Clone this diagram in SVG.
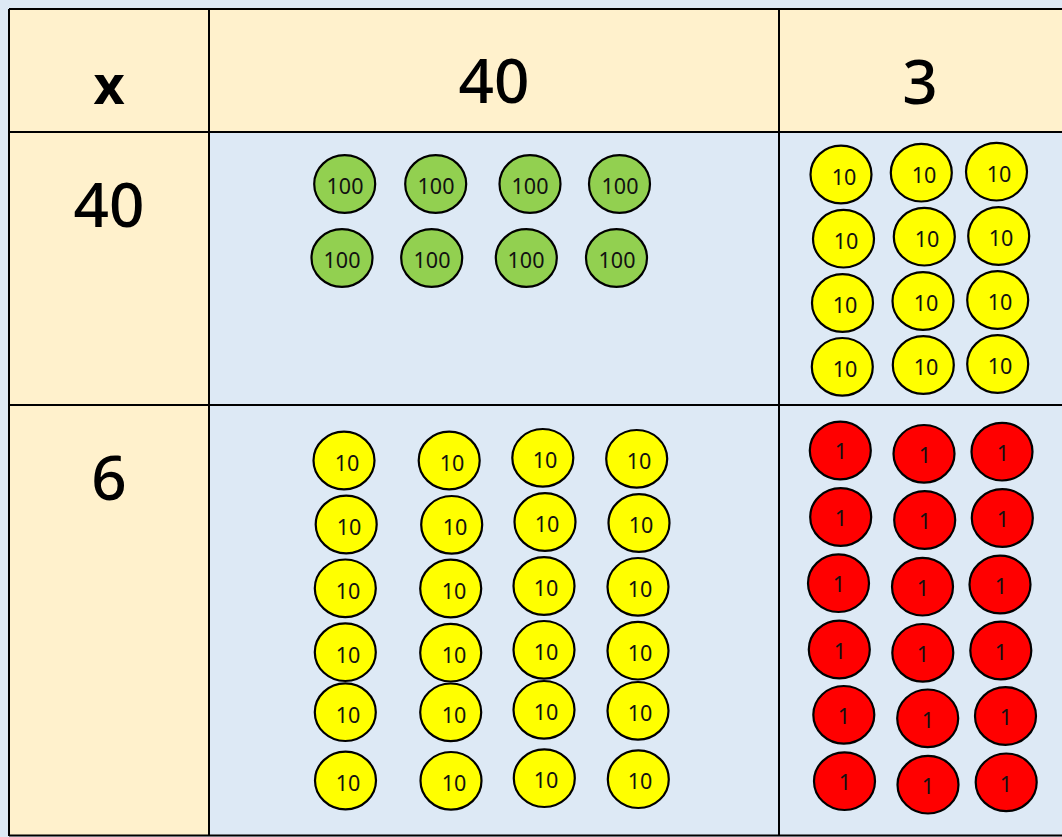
<svg xmlns="http://www.w3.org/2000/svg" width="1062" height="837" viewBox="0 0 1062 837">
<style>
.hdr{fill:#fff1cc}
.body{fill:#dde9f5}
.grid{stroke:#000;stroke-width:2;fill:none}
.big{font-family:"Noto Sans","Open Sans",sans-serif;font-size:62px;font-weight:500;fill:#000;text-anchor:middle}
.big.x{font-weight:bold;font-size:54px}
.g ellipse{fill:#92d050;stroke:#000;stroke-width:2.2}
.y ellipse{fill:#ffff00;stroke:#000;stroke-width:2.2}
.r ellipse{fill:#ff0000;stroke:#000;stroke-width:2.2}
.c text{font-family:"Noto Sans","Open Sans",sans-serif;font-size:21.5px;fill:#111;text-anchor:middle}
</style>
<rect x="0" y="0" width="1062" height="837" fill="#dde9f5"/>
<g id="cells">
<rect class="hdr" x="9" y="9" width="1053" height="123"/>
<rect class="hdr" x="9" y="9" width="200" height="827"/>
<rect class="body" x="209" y="132" width="853" height="704"/>
</g>
<g id="grid" class="grid">
<line x1="9" y1="9" x2="1062" y2="9"/>
<line x1="9" y1="132" x2="1062" y2="132"/>
<line x1="9" y1="405" x2="1062" y2="405"/>
<line x1="9" y1="835.5" x2="1062" y2="835.5"/>
<line x1="9" y1="9" x2="9" y2="836"/>
<line x1="209" y1="9" x2="209" y2="836"/>
<line x1="779" y1="9" x2="779" y2="836"/>
</g>
<g id="headers">
<text class="big x" x="109" y="104">x</text>
<text class="big" x="494" y="103">40</text>
<text class="big" x="920" y="104">3</text>
<text class="big" x="109" y="227">40</text>
<text class="big" x="109" y="500">6</text>
</g>
<g id="hundreds" class="c g">
<g><ellipse cx="344.7" cy="184" rx="30.5" ry="28.8"/><text x="345" y="194">100</text></g>
<g><ellipse cx="435.7" cy="184" rx="30.5" ry="28.8"/><text x="436" y="194">100</text></g>
<g><ellipse cx="530" cy="184" rx="30.5" ry="28.8"/><text x="530" y="194">100</text></g>
<g><ellipse cx="619.5" cy="184" rx="30.5" ry="28.8"/><text x="620" y="194">100</text></g>
<g><ellipse cx="342" cy="258" rx="30.5" ry="28.8"/><text x="342" y="268">100</text></g>
<g><ellipse cx="431.7" cy="258" rx="30.5" ry="28.8"/><text x="432" y="268">100</text></g>
<g><ellipse cx="526.3" cy="258" rx="30.5" ry="28.8"/><text x="526" y="268">100</text></g>
<g><ellipse cx="616.5" cy="258" rx="30.5" ry="28.8"/><text x="617" y="268">100</text></g>
</g>
<g id="tens-right" class="c y">
<g><ellipse cx="841" cy="174.5" rx="30.5" ry="28.8"/><text x="844" y="185">10</text></g>
<g><ellipse cx="921.3" cy="172.7" rx="30.5" ry="28.8"/><text x="924" y="183">10</text></g>
<g><ellipse cx="996.5" cy="171.7" rx="30.5" ry="28.8"/><text x="999" y="182">10</text></g>
<g><ellipse cx="843.5" cy="238.7" rx="30.5" ry="28.8"/><text x="846" y="249">10</text></g>
<g><ellipse cx="924.3" cy="236.7" rx="30.5" ry="28.8"/><text x="927" y="247">10</text></g>
<g><ellipse cx="998.7" cy="236" rx="30.5" ry="28.8"/><text x="1001" y="246">10</text></g>
<g><ellipse cx="842.5" cy="303" rx="30.5" ry="28.8"/><text x="845" y="313">10</text></g>
<g><ellipse cx="923" cy="301" rx="30.5" ry="28.8"/><text x="926" y="311">10</text></g>
<g><ellipse cx="997.7" cy="300" rx="30.5" ry="28.8"/><text x="1000" y="310">10</text></g>
<g><ellipse cx="842.3" cy="366.8" rx="30.5" ry="28.8"/><text x="845" y="377">10</text></g>
<g><ellipse cx="923.3" cy="365" rx="30.5" ry="28.8"/><text x="926" y="375">10</text></g>
<g><ellipse cx="997.7" cy="364" rx="30.5" ry="28.8"/><text x="1000" y="374">10</text></g>
</g>
<g id="tens-left" class="c y">
<g><ellipse cx="344" cy="460.5" rx="30.5" ry="28.8"/><text x="347" y="471">10</text></g>
<g><ellipse cx="449.2" cy="460.5" rx="30.5" ry="28.8"/><text x="452" y="471">10</text></g>
<g><ellipse cx="542.8" cy="457.8" rx="30.5" ry="28.8"/><text x="545" y="468">10</text></g>
<g><ellipse cx="636.7" cy="458.8" rx="30.5" ry="28.8"/><text x="639" y="469">10</text></g>
<g><ellipse cx="346.2" cy="524.5" rx="30.5" ry="28.8"/><text x="349" y="535">10</text></g>
<g><ellipse cx="451.7" cy="524.8" rx="30.5" ry="28.8"/><text x="455" y="535">10</text></g>
<g><ellipse cx="545" cy="522" rx="30.5" ry="28.8"/><text x="547" y="532">10</text></g>
<g><ellipse cx="639" cy="523" rx="30.5" ry="28.8"/><text x="641" y="533">10</text></g>
<g><ellipse cx="345.3" cy="588.3" rx="30.5" ry="28.8"/><text x="348" y="599">10</text></g>
<g><ellipse cx="450.7" cy="588.5" rx="30.5" ry="28.8"/><text x="454" y="599">10</text></g>
<g><ellipse cx="544" cy="586" rx="30.5" ry="28.8"/><text x="546" y="596">10</text></g>
<g><ellipse cx="638" cy="586.8" rx="30.5" ry="28.8"/><text x="640" y="597">10</text></g>
<g><ellipse cx="345.3" cy="652.2" rx="30.5" ry="28.8"/><text x="348" y="663">10</text></g>
<g><ellipse cx="450.7" cy="652.7" rx="30.5" ry="28.8"/><text x="454" y="663">10</text></g>
<g><ellipse cx="544" cy="649.8" rx="30.5" ry="28.8"/><text x="546" y="660">10</text></g>
<g><ellipse cx="638" cy="650.7" rx="30.5" ry="28.8"/><text x="640" y="661">10</text></g>
<g><ellipse cx="345.3" cy="712.2" rx="30.5" ry="28.8"/><text x="348" y="723">10</text></g>
<g><ellipse cx="450.7" cy="712.3" rx="30.5" ry="28.8"/><text x="454" y="723">10</text></g>
<g><ellipse cx="544" cy="709.8" rx="30.5" ry="28.8"/><text x="546" y="720">10</text></g>
<g><ellipse cx="638" cy="710.8" rx="30.5" ry="28.8"/><text x="640" y="721">10</text></g>
<g><ellipse cx="345.5" cy="780.5" rx="30.5" ry="28.8"/><text x="348" y="791">10</text></g>
<g><ellipse cx="451" cy="780.8" rx="30.5" ry="28.8"/><text x="454" y="791">10</text></g>
<g><ellipse cx="544.3" cy="778.2" rx="30.5" ry="28.8"/><text x="546" y="788">10</text></g>
<g><ellipse cx="638.3" cy="779.2" rx="30.5" ry="28.8"/><text x="640" y="789">10</text></g>
</g>
<g id="ones" class="c r">
<g><ellipse cx="840.3" cy="450.5" rx="30.5" ry="28.8"/><text x="841" y="459">1</text></g>
<g><ellipse cx="924" cy="453.8" rx="30.5" ry="28.8"/><text x="925" y="463">1</text></g>
<g><ellipse cx="1002" cy="451.7" rx="30.5" ry="28.8"/><text x="1003" y="461">1</text></g>
<g><ellipse cx="840.7" cy="517" rx="30.5" ry="28.8"/><text x="841" y="526">1</text></g>
<g><ellipse cx="924.7" cy="520" rx="30.5" ry="28.8"/><text x="925" y="529">1</text></g>
<g><ellipse cx="1002.3" cy="518" rx="30.5" ry="28.8"/><text x="1003" y="527">1</text></g>
<g><ellipse cx="838.5" cy="583.2" rx="30.5" ry="28.8"/><text x="839" y="592">1</text></g>
<g><ellipse cx="922.5" cy="586.7" rx="30.5" ry="28.8"/><text x="923" y="596">1</text></g>
<g><ellipse cx="1000" cy="584.5" rx="30.5" ry="28.8"/><text x="1001" y="594">1</text></g>
<g><ellipse cx="839.3" cy="649.5" rx="30.5" ry="28.8"/><text x="840" y="659">1</text></g>
<g><ellipse cx="922.8" cy="652.8" rx="30.5" ry="28.8"/><text x="923" y="662">1</text></g>
<g><ellipse cx="1000.8" cy="650.5" rx="30.5" ry="28.8"/><text x="1001" y="660">1</text></g>
<g><ellipse cx="843.8" cy="714.8" rx="30.5" ry="28.8"/><text x="844" y="724">1</text></g>
<g><ellipse cx="927.7" cy="718.3" rx="30.5" ry="28.8"/><text x="928" y="728">1</text></g>
<g><ellipse cx="1005.5" cy="716" rx="30.5" ry="28.8"/><text x="1006" y="725">1</text></g>
<g><ellipse cx="844.5" cy="781.2" rx="30.5" ry="28.8"/><text x="845" y="790">1</text></g>
<g><ellipse cx="928" cy="784.7" rx="30.5" ry="28.8"/><text x="928" y="794">1</text></g>
<g><ellipse cx="1006.2" cy="782.3" rx="30.5" ry="28.8"/><text x="1006" y="792">1</text></g>
</g>
</svg>
